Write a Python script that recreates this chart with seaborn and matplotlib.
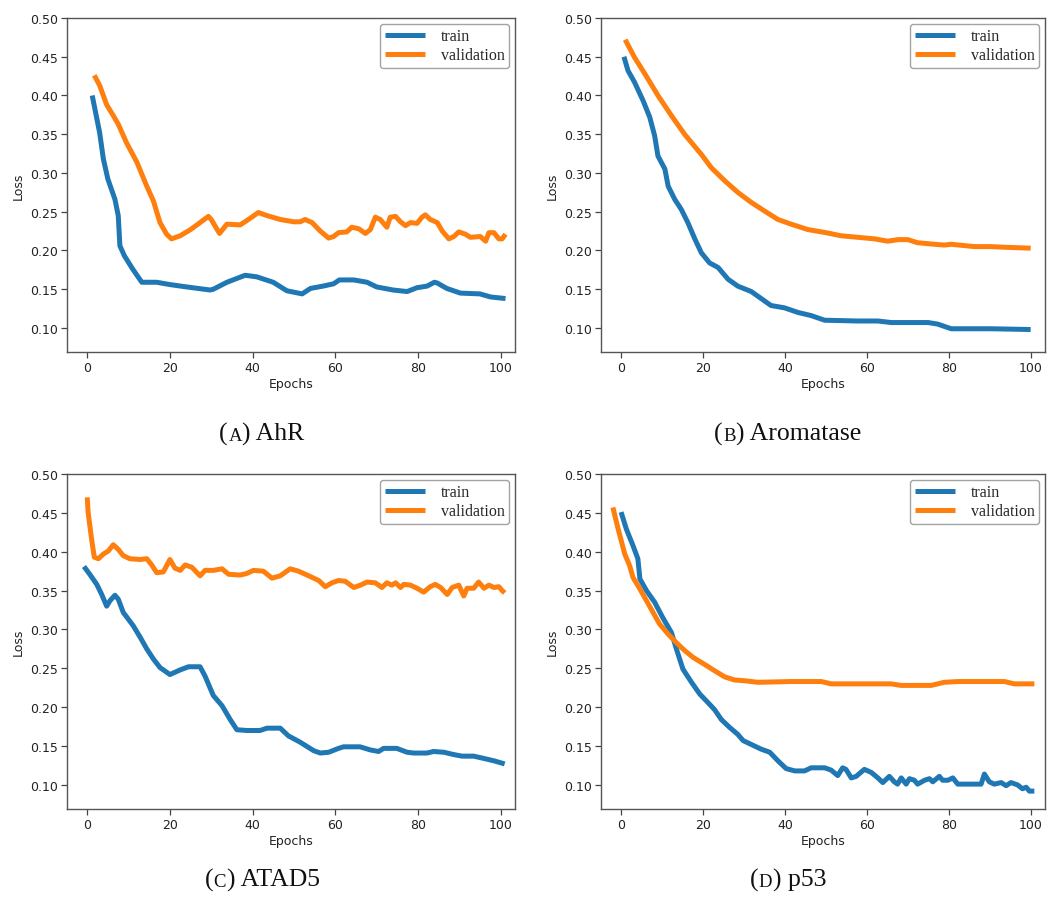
import numpy as np
import pandas as pd
import matplotlib
matplotlib.use("Agg")
import matplotlib.pyplot as plt
import seaborn as sns

# ---------------- data ----------------
ahr_train_ep = [1.2, 3, 3.9, 5, 6.7, 7.5, 7.9, 9, 11, 13.2, 16.8, 20, 24, 29.7, 30.5, 33.8, 38.2, 41, 45,
                48.3, 52, 54, 57, 59.6, 61, 64.5, 67.7, 70, 74, 77.4, 79.8, 82.2, 84, 84.7, 87, 90.3, 95,
                97.6, 101.2]
ahr_train = [0.400, 0.352, 0.318, 0.292, 0.266, 0.245, 0.206, 0.193, 0.176, 0.159, 0.159, 0.156, 0.153,
             0.149, 0.150, 0.159, 0.168, 0.166, 0.159, 0.148, 0.144, 0.151, 0.154, 0.157, 0.162, 0.162,
             0.159, 0.153, 0.149, 0.147, 0.152, 0.154, 0.159, 0.158, 0.151, 0.145, 0.144, 0.140, 0.138]
ahr_val_ep = [1.7, 3, 4.7, 6.3, 7.5, 9.5, 12, 14.4, 16, 17.6, 19.2, 20.4, 22.5, 25, 27.3, 29.3, 30, 32,
              33.8, 37, 39, 41.4, 43.5, 46.7, 50, 51.5, 52.7, 54.4, 56.4, 58.4, 59.6, 60.8, 62.8, 64,
              65.7, 67.3, 68.5, 69.7, 70.9, 72.5, 73.3, 74.6, 75.8, 77, 78.2, 79.8, 81, 81.8, 83, 84.7,
              85.9, 87.5, 88.7, 89.9, 91.5, 92.7, 95.1, 96.4, 97.2, 98.4, 99.6, 100.4, 101.2]
ahr_val = [0.426, 0.413, 0.388, 0.374, 0.363, 0.339, 0.314, 0.283, 0.264, 0.236, 0.221, 0.215, 0.219,
           0.227, 0.236, 0.244, 0.240, 0.222, 0.234, 0.233, 0.240, 0.249, 0.245, 0.240, 0.237, 0.237,
           0.240, 0.236, 0.225, 0.216, 0.218, 0.223, 0.224, 0.230, 0.228, 0.222, 0.227, 0.243, 0.240,
           0.230, 0.243, 0.244, 0.237, 0.232, 0.236, 0.235, 0.243, 0.246, 0.240, 0.236, 0.225, 0.215,
           0.218, 0.224, 0.221, 0.217, 0.218, 0.212, 0.223, 0.223, 0.215, 0.215, 0.221]

aro_train_ep = [0.7, 1.7, 3.3, 5.4, 7, 8.2, 9, 10.7, 11.5, 13.1, 14.7, 16.3, 18, 19.6, 21.6, 23.7, 26.1,
                28.5, 31.8, 34.2, 36.6, 39.9, 43.2, 46.4, 49.7, 57.8, 62.7, 66, 75, 77.3, 80.6, 90.3, 100]
aro_train = [0.450, 0.432, 0.417, 0.393, 0.372, 0.348, 0.322, 0.305, 0.283, 0.266, 0.253, 0.236, 0.215,
             0.197, 0.184, 0.178, 0.163, 0.154, 0.147, 0.138, 0.129, 0.126, 0.120, 0.116, 0.110, 0.109,
             0.109, 0.107, 0.107, 0.105, 0.099, 0.099, 0.098]
aro_val_ep = [1, 3.3, 5.8, 9, 12.3, 15.5, 18.8, 19.6, 22, 25.3, 28.5, 31.8, 35, 38.3, 41.5, 45.6, 50,
              53.7, 57.8, 61.9, 65.1, 67.6, 70, 72.4, 76.5, 78.9, 80.6, 86.3, 90.3, 94.4, 100]
aro_val = [0.472, 0.449, 0.428, 0.400, 0.374, 0.350, 0.329, 0.324, 0.307, 0.290, 0.275, 0.262, 0.251,
           0.240, 0.234, 0.227, 0.223, 0.219, 0.217, 0.215, 0.212, 0.214, 0.214, 0.210, 0.208, 0.207,
           0.208, 0.205, 0.205, 0.204, 0.203]

atad5_train_ep = [-0.8, 0.6, 2.3, 3.5, 4.7, 5.5, 6.7, 7.5, 8.7, 11.1, 12.8, 14.4, 16, 17.6, 20, 22.5,
                  24.5, 27.3, 28.5, 30.5, 32.6, 34.6, 36.2, 38.6, 41.8, 43.5, 46.7, 48.7, 51.5, 54.8,
                  56.4, 58.4, 60.8, 62, 66, 68.5, 70.5, 71.7, 74.9, 77.4, 79, 82.2, 83.8, 86.3, 88.7,
                  90.7, 93.5, 96, 98.4, 101]
atad5_train = [0.381, 0.371, 0.358, 0.345, 0.330, 0.337, 0.344, 0.339, 0.322, 0.305, 0.290, 0.275,
               0.262, 0.251, 0.242, 0.248, 0.252, 0.252, 0.240, 0.215, 0.202, 0.184, 0.171, 0.170,
               0.170, 0.173, 0.173, 0.163, 0.155, 0.144, 0.141, 0.142, 0.147, 0.149, 0.149, 0.145,
               0.143, 0.147, 0.147, 0.142, 0.141, 0.141, 0.143, 0.142, 0.139, 0.137, 0.137, 0.134,
               0.131, 0.127]
atad5_val_ep = [0, 0.2, 1, 1.7, 2.7, 3.9, 5.1, 6.3, 7.5, 8.7, 10.3, 12.8, 14.4, 15.6, 16.8, 18.4, 20,
                21.2, 22.5, 23.7, 25.3, 27.3, 28.5, 30.5, 32.6, 34.2, 37, 38.6, 40.2, 42.6, 44.7, 46.7,
                49.1, 51.1, 53.6, 56, 57.6, 59.2, 60.8, 62.4, 64.5, 66.1, 67.7, 69.7, 71.3, 72.5, 73.7,
                74.6, 75.8, 76.6, 78.2, 79.8, 81.4, 83, 84.2, 85.5, 87.1, 88.3, 89.9, 91.1, 91.9, 93.5,
                94.7, 96, 97.2, 98.4, 99.6, 100.4, 101]
atad5_val = [0.470, 0.451, 0.418, 0.393, 0.391, 0.397, 0.401, 0.409, 0.403, 0.395, 0.391, 0.390, 0.391,
             0.383, 0.373, 0.374, 0.390, 0.379, 0.376, 0.383, 0.380, 0.369, 0.376, 0.376, 0.378, 0.371,
             0.370, 0.372, 0.376, 0.375, 0.366, 0.369, 0.378, 0.375, 0.369, 0.363, 0.355, 0.360, 0.363,
             0.362, 0.354, 0.357, 0.361, 0.360, 0.354, 0.360, 0.357, 0.360, 0.354, 0.358, 0.357, 0.353,
             0.348, 0.355, 0.358, 0.354, 0.345, 0.354, 0.357, 0.343, 0.353, 0.353, 0.361, 0.353, 0.357,
             0.354, 0.355, 0.350, 0.347]

p53_train_ep = [0, 1.3, 2.9, 4.1, 4.6, 6.2, 8.2, 10.2, 12.3, 13.5, 15.1, 17.2, 19.2, 21.2, 22.8, 24.5,
                26.5, 28.5, 29.8, 31.8, 34.2, 36.3, 38.3, 40.3, 42.4, 44.8, 46.4, 49.7, 51.3, 52.9, 54.1,
                54.9, 56.2, 57.4, 59.4, 61.1, 62.7, 63.9, 65.5, 66.7, 67.5, 68.4, 69.6, 70.4, 71.6, 72.4,
                74.1, 75.3, 76.1, 77.7, 78.5, 79.8, 81, 82.2, 85.4, 87.9, 88.7, 89.9, 91.1, 92.8, 94,
                95.2, 96.8, 98, 98.9, 99.7, 100.9]
p53_train = [0.451, 0.429, 0.408, 0.391, 0.365, 0.350, 0.335, 0.315, 0.296, 0.275, 0.249, 0.232, 0.217,
             0.206, 0.197, 0.184, 0.174, 0.165, 0.157, 0.152, 0.146, 0.142, 0.131, 0.121, 0.118, 0.118,
             0.122, 0.122, 0.119, 0.112, 0.122, 0.120, 0.109, 0.111, 0.120, 0.116, 0.109, 0.103, 0.111,
             0.104, 0.101, 0.109, 0.101, 0.108, 0.106, 0.101, 0.106, 0.108, 0.104, 0.111, 0.106, 0.106,
             0.109, 0.101, 0.101, 0.101, 0.114, 0.104, 0.101, 0.103, 0.099, 0.103, 0.100, 0.095, 0.097,
             0.092, 0.092]
p53_val_ep = [-2, -0.7, 0.9, 2.1, 2.9, 4.6, 6.2, 7.8, 9.4, 11.5, 13.5, 15.5, 17.6, 20.4, 22.8, 25.3,
              27.7, 30.2, 33.4, 41.5, 48.9, 51.3, 57.8, 65.9, 68.4, 75.7, 78.9, 82.2, 93.6, 96, 100.9]
p53_val = [0.457, 0.429, 0.397, 0.382, 0.367, 0.352, 0.337, 0.322, 0.307, 0.294, 0.283, 0.273, 0.264,
           0.255, 0.247, 0.239, 0.235, 0.234, 0.232, 0.233, 0.233, 0.230, 0.230, 0.230, 0.228, 0.228,
           0.232, 0.233, 0.233, 0.230, 0.230]

panel_letters = ["A", "B", "C", "D"]
panel_names = ["AhR", "Aromatase", "ATAD5", "p53"]
series_names = ["train", "validation"]
y_ticks = [0.10, 0.15, 0.20, 0.25, 0.30, 0.35, 0.40, 0.45, 0.50]
x_ticks = [0, 20, 40, 60, 80, 100]

panels = [
    (ahr_train_ep, ahr_train, ahr_val_ep, ahr_val),
    (aro_train_ep, aro_train, aro_val_ep, aro_val),
    (atad5_train_ep, atad5_train, atad5_val_ep, atad5_val),
    (p53_train_ep, p53_train, p53_val_ep, p53_val),
]

# ---------------- figure ----------------
sns.set_style("ticks")
plt.rcParams['font.family'] = ['DejaVu Sans']

W, H = 1051, 904
fig = plt.figure(figsize=(W / 100, H / 100), dpi=100)

boxes = [
    [67 / W, 1 - 353 / H, 448 / W, 334 / H],
    [601 / W, 1 - 353 / H, 444 / W, 334 / H],
    [67 / W, 1 - 810 / H, 448 / W, 335 / H],
    [601 / W, 1 - 810 / H, 444 / W, 335 / H],
]
colors = ["#1f77b4", "#ff7f0e"]

for i, (tx, ty, vx, vy) in enumerate(panels):
    ax = fig.add_axes(boxes[i])
    df = pd.concat([
        pd.DataFrame({"Epochs": tx, "Loss": ty, "set": series_names[0]}),
        pd.DataFrame({"Epochs": vx, "Loss": vy, "set": series_names[1]}),
    ])
    sns.lineplot(data=df, x="Epochs", y="Loss", hue="set", palette=colors,
                 estimator=None, linewidth=3.6, ax=ax, legend=True)
    for ln in ax.get_lines():
        ln.set_solid_joinstyle("round")
        ln.set_solid_capstyle("butt")
    ax.set_xlim(-4.9, 103.5)
    ax.set_ylim(0.069, 0.50)
    ax.set_yticks(y_ticks)
    ax.set_yticklabels([f"{v:.2f}" for v in y_ticks])
    ax.set_xticks(x_ticks)
    ax.tick_params(labelsize=9, length=4, width=0.9, color="#444444", labelcolor="#222222", pad=2.5)
    ax.set_xlabel("Epochs", fontsize=9, color="#222222", labelpad=2)
    ax.set_ylabel("Loss", fontsize=9, color="#222222", labelpad=4)
    for sp in ax.spines.values():
        sp.set_color("#555555")
        sp.set_linewidth(1.0)
    leg = ax.legend(loc="upper right", prop={"family": "Liberation Serif", "size": 11.5},
                    handlelength=2.5, borderaxespad=0.35, fancybox=True, framealpha=0.9,
                    edgecolor="#999999", handletextpad=1.0, labelspacing=0.18,
                    borderpad=0.3)
    for line in leg.get_lines():
        line.set_linewidth(3.6)

# ---------------- captions with small-caps letter ----------------
fig.canvas.draw()
renderer = fig.canvas.get_renderer()
cap_pos = [(262, 441), (788, 441), (262, 887), (788, 887)]
for (xc, yb), letter, name in zip(cap_pos, panel_letters, panel_names):
    parts = [("(", 18.5), (letter, 13.5), (") " + name, 18.5)]
    texts = [fig.text(0, 1 - yb / H, s, fontsize=fs, family="Liberation Serif",
                      va="baseline", ha="left", color="#111111") for s, fs in parts]
    widths = [t.get_window_extent(renderer).width for t in texts]
    x0 = xc - (sum(widths) + 1.0) / 2
    for t, w in zip(texts, widths):
        t.set_x(x0 / W)
        x0 += w + 0.5

fig.savefig("out.png", dpi=100)
